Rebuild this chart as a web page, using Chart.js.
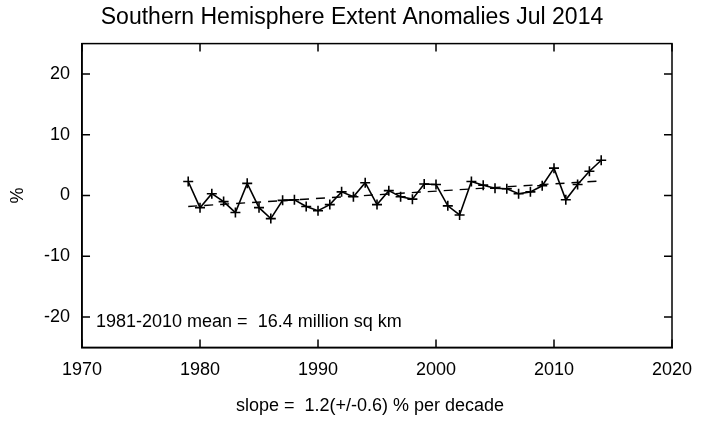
<!DOCTYPE html><html><head><script src="https://cdn.jsdelivr.net/npm/chart.js@4"></script>
<style>body{margin:0;background:#fff}#w{width:706px;height:433px}</style></head><body><div id="w"><canvas id="c"></canvas></div>
<script>
const years=[1979,1980,1981,1982,1983,1984,1985,1986,1987,1988,1989,1990,1991,1992,1993,1994,1995,1996,1997,1998,1999,2000,2001,2002,2003,2004,2005,2006,2007,2008,2009,2010,2011,2012,2013,2014];
const anomalies=[2.3,-2.0,0.3,-1.0,-2.8,2.0,-2.0,-3.8,-0.8,-0.7,-1.8,-2.5,-1.5,0.6,-0.2,2.1,-1.5,0.8,-0.2,-0.6,1.9,1.8,-1.7,-3.2,2.3,1.7,1.2,1.1,0.3,0.6,1.6,4.5,-0.7,1.8,4.0,5.8];
const trendEnds=[[1979,-1.8],[2014,2.4]];
const xTicks=[1970,1980,1990,2000,2010,2020];
const yTicks=[-20,-10,0,10,20];
const F='Liberation Sans, Arial, sans-serif';
const textPlugin={id:'t',afterDraw(ch){const c=ch.ctx,a=ch.chartArea;c.save();c.fillStyle='#000';c.font='18px '+F;c.textAlign='left';c.textBaseline='middle';
c.fillText('1981-2010 mean =  16.4 million sq km',a.left+14,a.bottom-25);
c.textAlign='center';c.fillText('slope =  1.2(+/-0.6) % per decade',370,406);
c.translate(18,(a.top+a.bottom)/2);c.rotate(-Math.PI/2);c.fillText('%',0,0);c.restore();}};
new Chart(document.getElementById('c'),{type:'scatter',data:{datasets:[
{data:years.map((y,i)=>({x:y,y:anomalies[i]})),showLine:true,borderColor:'#000',borderWidth:1.6,pointStyle:'cross',pointRadius:5,pointBorderWidth:1.6,pointBorderColor:'#000',tension:0},
{data:trendEnds.map(p=>({x:p[0],y:p[1]})),showLine:true,borderColor:'#000',borderWidth:1.4,borderDash:[9,7],pointRadius:0}]},
options:{animation:false,responsive:true,maintainAspectRatio:false,layout:{padding:{left:32,right:34,top:0,bottom:40}},
plugins:{legend:{display:false},tooltip:{enabled:false},title:{display:true,text:'Southern Hemisphere Extent Anomalies Jul 2014',color:'#000',font:{family:F,size:23,weight:'normal'},padding:{top:4,bottom:12}}},
scales:{x:{type:'linear',min:1970,max:2020,afterBuildTicks:s=>{s.ticks=xTicks.map(v=>({value:v}))},grid:{display:false,drawTicks:false},border:{color:'#000',width:1.5},ticks:{color:'#000',font:{family:F,size:18},padding:12,callback:v=>String(v)}},
y:{min:-25,max:25,afterBuildTicks:s=>{s.ticks=yTicks.map(v=>({value:v}))},grid:{display:false,drawTicks:false},border:{color:'#000',width:1.5},ticks:{color:'#000',font:{family:F,size:18},padding:12}}}},
plugins:[textPlugin,{id:'box',afterDraw(ch){const c=ch.ctx,a=ch.chartArea;c.save();c.strokeStyle='#000';c.lineWidth=1.5;c.strokeRect(a.left,a.top,a.right-a.left,a.bottom-a.top);
const xs=ch.scales.x,ys=ch.scales.y;c.beginPath();xTicks.forEach(v=>{const p=xs.getPixelForValue(v);c.moveTo(p,a.bottom);c.lineTo(p,a.bottom-8);c.moveTo(p,a.top);c.lineTo(p,a.top+8);});
yTicks.concat([0]).forEach(v=>{const p=ys.getPixelForValue(v);c.moveTo(a.left,p);c.lineTo(a.left+8,p);c.moveTo(a.right,p);c.lineTo(a.right-8,p);});c.stroke();c.restore();}}]});
</script></body></html>
